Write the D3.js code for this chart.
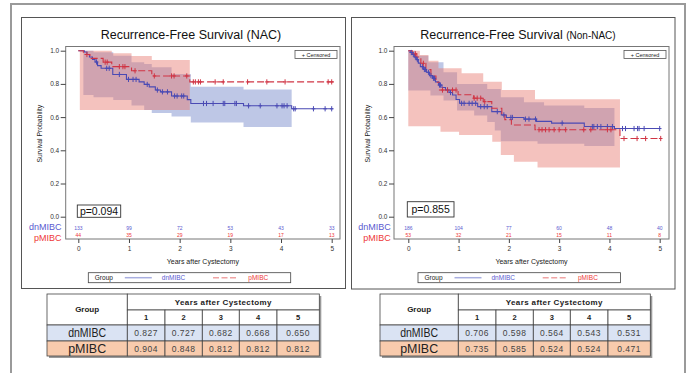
<!DOCTYPE html>
<html><head><meta charset="utf-8">
<script src="https://cdn.jsdelivr.net/npm/d3@7"></script>
<style>body{margin:0;background:#fff}svg{display:block}text{font-family:"Liberation Sans",Arial,sans-serif}</style>
</head><body><svg id="c" width="688" height="373"></svg>
<script>
// ---------- DATA ----------
const years = [0, 1, 2, 3, 4, 5];
const yTicks = [0, 0.2, 0.4, 0.6, 0.8, 1.0];
const groups = ["dnMIBC", "pMIBC"];
const titles = ["Recurrence-Free Survival (NAC)", "Recurrence-Free Survival ", "(Non-NAC)"];
const pValues = ["p=0.094", "p=0.855"];
const tableCols = ["1", "2", "3", "4", "5"];

// NAC - dnMIBC
const nacDnTimes = [0, 0.12, 0.17, 0.22, 0.28, 0.33, 0.38, 0.45, 0.68, 0.95, 1.20, 1.30, 1.40, 1.52, 1.62, 1.84, 2.15, 2.22, 3.26, 4.21];
const nacDnSurv  = [1.0, 0.992, 0.977, 0.962, 0.947, 0.932, 0.910, 0.894, 0.857, 0.827, 0.812, 0.797, 0.782, 0.763, 0.752, 0.727, 0.705, 0.682, 0.668, 0.650];
const nacDnEnd = 5.03;
const nacDnCens = [0.36, 0.56, 0.61, 0.81, 0.99, 1.08, 1.14, 1.36, 1.56, 1.66, 1.76, 1.90, 1.95, 2.04, 2.08, 2.47, 2.53, 2.66, 2.86, 2.89, 3.09, 3.12, 3.36, 3.59, 3.92, 4.02, 4.06, 4.12, 4.25, 4.28, 4.64, 4.87, 5.0];
const nacDnBandT  = [0.10, 0.30, 0.69, 1.05, 1.30, 1.45, 1.84, 2.22, 3.26];
const nacDnBandUp = [1.0, 0.99, 0.97, 0.93, 0.92, 0.90, 0.86, 0.783, 0.767];
const nacDnBandLo = [0.733, 0.72, 0.703, 0.67, 0.643, 0.625, 0.603, 0.567, 0.54];
const nacDnBandEnd = 4.21;
// NAC - pMIBC
const nacPTimes = [0, 0.10, 0.23, 0.49, 0.66, 1.05, 1.45, 2.20];
const nacPSurv  = [1.0, 0.977, 0.954, 0.931, 0.904, 0.879, 0.848, 0.812];
const nacPEnd = 5.04;
const nacPCens = [0.17, 0.53, 0.57, 0.81, 0.88, 0.92, 1.12, 1.50, 1.84, 1.89, 2.14, 2.27, 2.31, 2.37, 2.41, 2.70, 2.86, 3.34, 3.72, 4.08, 4.93, 5.0];
const nacPBandT  = [0.03, 0.66, 1.05, 1.45];
const nacPBandUp = [1.0, 0.985, 0.968, 0.944];
const nacPBandLo = [0.643, 0.643, 0.643, 0.643];
const nacPBandEnd = 2.20;

// Non-NAC - dnMIBC
const nonDnTimes = [0, 0.04, 0.08, 0.12, 0.16, 0.20, 0.24, 0.30, 0.36, 0.42, 0.48, 0.54, 0.60, 0.67, 0.74, 0.81, 0.88, 0.95, 1.02, 1.38, 1.66, 1.85, 1.95, 2.30, 2.55, 2.85, 3.50, 4.10];
const nonDnSurv  = [1.0, 0.989, 0.978, 0.962, 0.946, 0.925, 0.904, 0.887, 0.870, 0.850, 0.834, 0.812, 0.793, 0.778, 0.763, 0.748, 0.733, 0.706, 0.683, 0.663, 0.633, 0.613, 0.598, 0.588, 0.574, 0.564, 0.543, 0.531];
const nonDnEnd = 5.0;
const nonDnCens = [0.06, 0.10, 0.14, 0.18, 0.28, 0.32, 0.34, 0.40, 0.45, 0.50, 0.52, 0.62, 0.64, 0.78, 0.84, 1.06, 1.11, 1.21, 1.27, 1.34, 1.44, 1.51, 1.57, 1.77, 1.90, 2.04, 2.07, 2.33, 2.40, 2.53, 3.06, 3.66, 3.69, 3.76, 3.83, 3.96, 4.06, 4.26, 4.32, 4.49, 4.56, 4.59, 4.69, 5.0];
const nonDnBandT  = [0, 0.15, 0.40, 0.44, 0.70, 0.97, 1.31, 1.57, 1.72, 1.84, 2.30, 2.57, 2.70, 3.50];
const nonDnBandUp = [1.0, 0.97, 0.93, 0.93, 0.87, 0.80, 0.80, 0.77, 0.77, 0.72, 0.69, 0.69, 0.67, 0.655];
const nonDnBandLo = [0.76, 0.76, 0.76, 0.73, 0.70, 0.64, 0.61, 0.57, 0.52, 0.455, 0.455, 0.44, 0.44, 0.426];
const nonDnBandEnd = 4.10;
// Non-NAC - pMIBC
const nonPTimes = [0, 0.08, 0.17, 0.25, 0.35, 0.45, 0.55, 0.62, 0.99, 1.30, 1.49, 1.66, 1.86, 1.92, 2.05, 2.52, 4.21];
const nonPSurv  = [1.0, 0.981, 0.962, 0.924, 0.886, 0.848, 0.810, 0.763, 0.735, 0.714, 0.693, 0.653, 0.613, 0.585, 0.552, 0.524, 0.471];
const nonPEnd = 5.02;
const nonPCens = [0.14, 0.30, 0.68, 0.78, 0.88, 0.95, 1.31, 1.37, 1.44, 1.52, 2.60, 2.66, 2.73, 2.80, 2.90, 3.00, 3.13, 3.49, 3.63, 3.96, 4.03, 4.29, 4.55, 4.72, 5.02];
const nonPBandT  = [0, 0.23, 0.40, 0.60, 0.64, 1.01, 1.06, 1.49, 1.67, 1.84, 1.86, 2.10, 2.52, 2.57];
const nonPBandUp = [1.0, 0.974, 0.94, 0.894, 0.894, 0.894, 0.864, 0.813, 0.813, 0.813, 0.763, 0.763, 0.707, 0.707];
const nonPBandLo = [0.545, 0.545, 0.545, 0.545, 0.512, 0.492, 0.492, 0.492, 0.452, 0.372, 0.372, 0.331, 0.331, 0.297];
const nonPBandEnd = 4.21;

// Numbers at risk
const nacDnAtRisk = [133, 99, 72, 53, 43, 33];
const nacPAtRisk  = [44, 35, 29, 19, 17, 13];
const nonDnAtRisk = [186, 104, 77, 60, 48, 40];
const nonPAtRisk  = [53, 32, 21, 15, 11, 8];

// Survival table values
const nacDnTable = [0.827, 0.727, 0.682, 0.668, 0.650];
const nacPTable  = [0.904, 0.848, 0.812, 0.812, 0.812];
const nonDnTable = [0.706, 0.598, 0.564, 0.543, 0.531];
const nonPTable  = [0.735, 0.585, 0.524, 0.524, 0.471];

// ---------- STYLE ----------
const BLUE = "#4a4ab4", RED = "#d03444";
const BLUE_TXT = "#5a5ad0", RED_TXT = "#ee3838";
const BLUE_BAND = "rgb(110,130,200)", RED_BAND = "rgb(230,120,110)";

const svg = d3.select("#c");
svg.append("path").attr("d", "M11,373 V4 H685 V373").attr("fill", "none").attr("stroke", "#9a9a9a").attr("stroke-width", 2);
svg.append("rect").attr("x", 21.5).attr("y", 17.5).attr("width", 324).attr("height", 271).attr("fill", "none").attr("stroke", "#555");
svg.append("rect").attr("x", 351.5).attr("y", 17.5).attr("width", 323.5).attr("height", 271.5).attr("fill", "none").attr("stroke", "#555");

function stepAt(times, surv, t) {
  let v = surv[0];
  for (let i = 0; i < times.length; i++) if (times[i] <= t) v = surv[i];
  return v;
}

function panel(cfg) {
  const g = svg.append("g");
  const x = d3.scaleLinear().domain([0, 5]).range(cfg.xr);
  const y = d3.scaleLinear().domain([0, 1]).range([216.7, 50.7]);

  // bands
  const area = d3.area().curve(d3.curveStepAfter).x(d => x(d.t)).y0(d => y(d.lo)).y1(d => y(d.up));
  cfg.series.forEach(s => {
    const pts = s.bandT.map((t, i) => ({t: t, up: s.bandUp[i], lo: s.bandLo[i]}));
    const last = pts[pts.length - 1];
    pts.push({t: s.bandEnd, up: last.up, lo: last.lo});
    g.append("path").attr("d", area(pts)).attr("fill", s.band).attr("fill-opacity", 0.45);
  });
  // lines
  const line = d3.line().curve(d3.curveStepAfter).x(d => x(d.t)).y(d => y(d.s));
  cfg.series.forEach(s => {
    const pts = s.times.map((t, i) => ({t: t, s: s.surv[i]}));
    pts.push({t: s.end, s: s.surv[s.surv.length - 1]});
    g.append("path").attr("d", line(pts)).attr("fill", "none").attr("stroke", s.color)
      .attr("stroke-width", 1.1).attr("stroke-dasharray", s.dash || null);
  });
  // censor marks
  cfg.series.forEach(s => {
    g.selectAll(null).data(s.cens).enter().append("path")
      .attr("d", t => { const cx = x(t), cy = y(stepAt(s.times, s.surv, t)); return `M${cx},${cy - 2.6}V${cy + 2.6}M${cx - 1.8},${cy}H${cx + 1.8}`; })
      .attr("stroke", s.color).attr("stroke-width", 1).attr("fill", "none");
  });

  // frame
  g.append("rect").attr("x", cfg.fx0).attr("y", 46.5).attr("width", cfg.fx1 - cfg.fx0).attr("height", 192.5)
    .attr("fill", "none").attr("stroke", "#777");

  // y axis
  const ya = g.append("g").attr("transform", `translate(${cfg.fx0},0)`)
    .call(d3.axisLeft(y).tickValues(yTicks).tickFormat(d3.format(".1f")).tickSize(5).tickPadding(1.5));
  ya.select(".domain").remove();
  ya.selectAll("line").attr("stroke", "#444");
  ya.selectAll("text").attr("font-size", "6.5px").attr("fill", "#333").attr("font-family", "Liberation Sans, Arial, sans-serif");
  // x axis
  const xa = g.append("g").attr("transform", "translate(0,239)")
    .call(d3.axisBottom(x).tickValues(years).tickFormat(d3.format("d")).tickSize(4).tickPadding(3));
  xa.select(".domain").remove();
  xa.selectAll("line").attr("stroke", "#444");
  xa.selectAll("text").attr("font-size", "6.5px").attr("fill", "#333").attr("font-family", "Liberation Sans, Arial, sans-serif");

  // axis labels
  g.append("text").attr("transform", `translate(${cfg.ylabX},133.7) rotate(-90)`).attr("text-anchor", "middle")
    .attr("dy", "0.35em").attr("font-size", "6.8px").attr("fill", "#222").text("Survival Probability");
  g.append("text").attr("x", (cfg.fx0 + cfg.fx1) / 2).attr("y", 263.5).attr("text-anchor", "middle")
    .attr("font-size", "7px").attr("fill", "#222").text("Years after Cystectomy");

  // title
  const tt = g.append("text").attr("x", cfg.titleX).attr("y", 38.5).attr("text-anchor", "middle").attr("fill", "#111");
  cfg.title.forEach((t, i) => tt.append("tspan").attr("font-size", i === 0 ? "12.5px" : "10px").text(t));

  // censored legend
  g.append("rect").attr("x", cfg.fx1 - 45).attr("y", 50.5).attr("width", 42).attr("height", 8).attr("fill", "#fff").attr("stroke", "#555").attr("stroke-width", 0.8);
  g.append("text").attr("x", cfg.fx1 - 24).attr("y", 56.6).attr("text-anchor", "middle").attr("font-size", "5.5px").attr("fill", "#222").text("+ Censored");

  // at risk
  const arY = [230, 237.4], labY = [230.3, 240.6];
  cfg.atRisk.forEach((arr, k) => {
    g.selectAll(null).data(arr).enter().append("text")
      .attr("x", (d, i) => x(years[i])).attr("y", arY[k]).attr("text-anchor", "middle")
      .attr("font-size", "5px").attr("fill", k === 0 ? BLUE_TXT : RED_TXT).text(d => d);
    g.append("text").attr("x", cfg.arLabX).attr("y", labY[k]).attr("text-anchor", "end")
      .attr("font-size", "9px").attr("fill", k === 0 ? BLUE_TXT : RED_TXT).text(groups[k]);
  });

  // p-value
  g.append("rect").attr("x", cfg.pBox[0]).attr("y", cfg.pBox[1]).attr("width", cfg.pBox[2]).attr("height", cfg.pBox[3])
    .attr("fill", "#fff").attr("stroke", "#333").attr("stroke-width", 0.9);
  g.append("text").attr("x", cfg.pBox[0] + cfg.pBox[2] / 2).attr("y", cfg.pBox[1] + cfg.pBox[3] / 2).attr("dy", "0.36em")
    .attr("text-anchor", "middle").attr("font-size", "10.5px").attr("fill", "#111").text(cfg.p);

  // bottom legend
  const lx = cfg.legX, ly = 272.7;
  g.append("rect").attr("x", lx).attr("y", ly).attr("width", 202.4).attr("height", 10).attr("fill", "#fff").attr("stroke", "#444").attr("stroke-width", 0.8);
  g.append("text").attr("x", lx + 6.5).attr("y", ly + 7.5).attr("font-size", "6.5px").attr("fill", "#222").text("Group");
  g.append("line").attr("x1", lx + 36.5).attr("x2", lx + 63.5).attr("y1", ly + 5).attr("y2", ly + 5).attr("stroke", "#a8aee0").attr("stroke-width", 1.5);
  g.append("text").attr("x", lx + 73.5).attr("y", ly + 7.5).attr("font-size", "6.5px").attr("fill", BLUE_TXT).text(groups[0]);
  g.append("line").attr("x1", lx + 124.7).attr("x2", lx + 149.7).attr("y1", ly + 5).attr("y2", ly + 5).attr("stroke", "#f0a4a4").attr("stroke-width", 1.5).attr("stroke-dasharray", "6,2.5");
  g.append("text").attr("x", lx + 160).attr("y", ly + 7.5).attr("font-size", "6.5px").attr("fill", RED_TXT).text(groups[1]);
}

panel({
  xr: [78.3, 331.7], fx0: 65.7, fx1: 340, ylabX: 39.5, titleX: 191, title: [titles[0]],
  arLabX: 61.5, pBox: [77.3, 205, 43.4, 12.3], p: pValues[0], legX: 88.3,
  atRisk: [nacDnAtRisk, nacPAtRisk],
  series: [
    {times: nacDnTimes, surv: nacDnSurv, end: nacDnEnd, cens: nacDnCens, bandT: nacDnBandT, bandUp: nacDnBandUp, bandLo: nacDnBandLo, bandEnd: nacDnBandEnd, color: BLUE, band: BLUE_BAND},
    {times: nacPTimes, surv: nacPSurv, end: nacPEnd, cens: nacPCens, bandT: nacPBandT, bandUp: nacPBandUp, bandLo: nacPBandLo, bandEnd: nacPBandEnd, color: RED, band: RED_BAND, dash: "7,3"}
  ]
});
panel({
  xr: [408.3, 659.7], fx0: 394, fx1: 669, ylabX: 367.5, titleX: 518, title: [titles[1], titles[2]],
  arLabX: 390.7, pBox: [407.3, 201.7, 46.7, 15.3], p: pValues[1], legX: 418,
  atRisk: [nonDnAtRisk, nonPAtRisk],
  series: [
    {times: nonDnTimes, surv: nonDnSurv, end: nonDnEnd, cens: nonDnCens, bandT: nonDnBandT, bandUp: nonDnBandUp, bandLo: nonDnBandLo, bandEnd: nonDnBandEnd, color: BLUE, band: BLUE_BAND},
    {times: nonPTimes, surv: nonPSurv, end: nonPEnd, cens: nonPCens, bandT: nonPBandT, bandUp: nonPBandUp, bandLo: nonPBandLo, bandEnd: nonPBandEnd, color: RED, band: RED_BAND, dash: "7,3"}
  ]
});

// ---------- TABLES ----------
function drawTable(x0, gw, dnVals, pVals) {
  const colW = [37.7, 37.3, 37, 37.7, 42.3];
  const rowsY = [294, 310, 325, 341, 356];
  const total = gw + d3.sum(colW);
  const colX = [x0 + gw];
  colW.forEach(w => colX.push(colX[colX.length - 1] + w));
  const g = svg.append("g");
  g.append("rect").attr("x", x0 + 2).attr("y", rowsY[0] + 2).attr("width", total).attr("height", rowsY[4] - rowsY[0]).attr("fill", "#9a9a9a");
  const cell = (x, y, w, h, fill) => g.append("rect").attr("x", x).attr("y", y).attr("width", w).attr("height", h)
    .attr("fill", fill).attr("stroke", "#444").attr("stroke-width", 0.8);
  cell(x0, rowsY[0], gw, rowsY[2] - rowsY[0], "#fff");
  cell(x0 + gw, rowsY[0], d3.sum(colW), rowsY[1] - rowsY[0], "#fff");
  g.append("text").attr("x", x0 + gw / 2).attr("y", (rowsY[0] + rowsY[2]) / 2).attr("dy", "0.35em").attr("text-anchor", "middle")
    .attr("font-size", "8px").attr("font-weight", "bold").attr("fill", "#222").text("Group");
  g.append("text").attr("x", x0 + gw + d3.sum(colW) / 2).attr("y", (rowsY[0] + rowsY[1]) / 2).attr("dy", "0.35em").attr("text-anchor", "middle")
    .attr("font-size", "8px").attr("font-weight", "bold").attr("letter-spacing", "0.4px").attr("fill", "#222").text("Years after Cystectomy");
  tableCols.forEach((c, i) => {
    cell(colX[i], rowsY[1], colW[i], rowsY[2] - rowsY[1], "#fff");
    g.append("text").attr("x", colX[i] + colW[i] / 2).attr("y", (rowsY[1] + rowsY[2]) / 2).attr("dy", "0.35em").attr("text-anchor", "middle")
      .attr("font-size", "7.5px").attr("font-weight", "bold").attr("fill", "#222").text(c);
  });
  [[dnVals, "#dae3f3", groups[0]], [pVals, "#f8cbad", groups[1]]].forEach(([vals, fill, name], r) => {
    const y0 = rowsY[2 + r], h = rowsY[3 + r] - y0;
    cell(x0, y0, gw, h, fill);
    g.append("text").attr("x", x0 + gw / 2).attr("y", y0 + h / 2).attr("dy", "0.36em").attr("text-anchor", "middle")
      .attr("font-size", "12px").attr("textLength", 38).attr("lengthAdjust", "spacingAndGlyphs").attr("fill", "#222").text(name);
    vals.forEach((v, i) => {
      cell(colX[i], y0, colW[i], h, fill);
      g.append("text").attr("x", colX[i] + colW[i] / 2).attr("y", y0 + h / 2).attr("dy", "0.36em").attr("text-anchor", "middle")
        .attr("font-size", "8.5px").attr("letter-spacing", "0.5px").attr("fill", "#444").text(d3.format(".3f")(v));
    });
  });
}
drawTable(47, 80.3, nacDnTable, nacPTable);
drawTable(380, 78.3, nonDnTable, nonPTable);
</script>
</body></html>
